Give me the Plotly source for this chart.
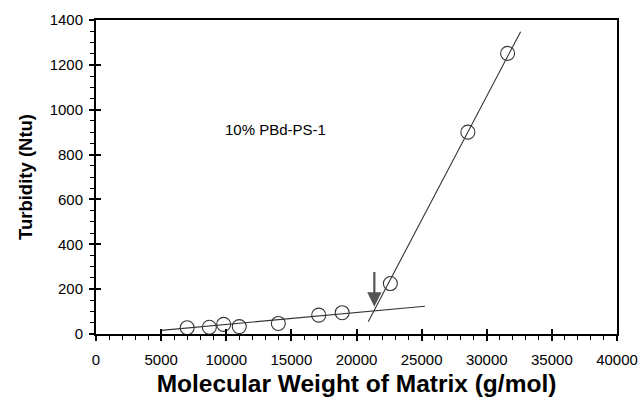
import plotly.graph_objects as go

# Turbidity of 10% PBd-PS-1 blends vs. matrix molecular weight
mw = [7000, 8700, 9800, 11000, 14000, 17100, 18900, 22600, 28550, 31600]
turbidity = [28, 30, 43, 33, 47, 84, 95, 225, 900, 1251]

# Two linear regimes (below / above the critical molecular weight)
low_fit_x = [5000, 25250]
low_fit_y = [16, 124]
high_fit_x = [20900, 32600]
high_fit_y = [55, 1348]

# Arrow marking the transition point
arrow_x = 21370
arrow_tail_y = 283
arrow_tip_y = 122

label_text = "10% PBd-PS-1"
label_x = 13800
label_y = 910

x_range = [0, 40000]
y_range = [0, 1400]

FONT = "Liberation Sans, Arial, sans-serif"
INK = "#000000"

fig = go.Figure()

fig.add_trace(go.Scatter(x=low_fit_x, y=low_fit_y, mode="lines",
                         line=dict(color="#333333", width=1.1), hoverinfo="skip"))
fig.add_trace(go.Scatter(x=high_fit_x, y=high_fit_y, mode="lines",
                         line=dict(color="#333333", width=1.1), hoverinfo="skip"))
fig.add_trace(go.Scatter(x=mw, y=turbidity, mode="markers",
                         marker=dict(symbol="circle-open", size=14,
                                     color="#333333", line=dict(width=1.1))))

# Invisible trace so the overlay axes (inside halves of crossing ticks) are drawn
fig.add_trace(go.Scatter(x=[None], y=[None], xaxis="x2", yaxis="y2",
                         mode="markers", hoverinfo="skip"))

fig.add_annotation(x=arrow_x, y=arrow_tip_y, ax=arrow_x, ay=arrow_tail_y,
                   xref="x", yref="y", axref="x", ayref="y",
                   showarrow=True, arrowhead=2, arrowsize=1.3, arrowwidth=2.2,
                   arrowcolor="#555555", text="")
fig.add_annotation(x=label_x, y=label_y, xref="x", yref="y", text=label_text,
                   showarrow=False, font=dict(family=FONT, size=15, color=INK))

tick_style = dict(showgrid=False, zeroline=False, tickcolor="#000000", tickwidth=1.6)

fig.update_layout(
    width=640, height=405,
    margin=dict(l=96, r=23, t=20, b=71),
    paper_bgcolor="white", plot_bgcolor="white",
    showlegend=False,
    xaxis=dict(range=x_range, dtick=5000, tick0=0, tickformat="d",
               ticks="outside", ticklen=5, automargin=False,
               ticklabelstandoff=6,
               mirror=True, showline=True, linecolor="#000000", linewidth=2,
               minor=dict(ticks="outside", dtick=1000, ticklen=4,
                          tickcolor="#000000", tickwidth=1.4),
               tickfont=dict(family=FONT, size=15, color=INK),
               title=dict(text="<b>Molecular Weight of Matrix (g/mol)</b>",
                          font=dict(family=FONT, size=24.5, color=INK),
                          standoff=8),
               **tick_style),
    yaxis=dict(range=y_range, dtick=200, tick0=0, tickformat="d",
               ticks="outside", ticklen=5, automargin=False,
               ticklabelstandoff=3,
               mirror=True, showline=True, linecolor="#000000", linewidth=2,
               minor=dict(ticks="outside", dtick=50, ticklen=4,
                          tickcolor="#000000", tickwidth=1.4),
               tickfont=dict(family=FONT, size=15, color=INK),
               title=dict(text="<b>Turbidity (Ntu)</b>",
                          font=dict(family=FONT, size=18.5, color=INK),
                          standoff=12),
               **tick_style),
    xaxis2=dict(range=x_range, dtick=5000, tick0=0, ticks="inside", ticklen=5,
                overlaying="x", side="bottom", showticklabels=False,
                showline=False, anchor="y2", automargin=False, **tick_style),
    yaxis2=dict(range=y_range, dtick=200, tick0=0, ticks="inside", ticklen=5,
                overlaying="y", side="left", showticklabels=False,
                showline=False, anchor="x2", automargin=False, **tick_style),
)

fig.write_html("out.html")
